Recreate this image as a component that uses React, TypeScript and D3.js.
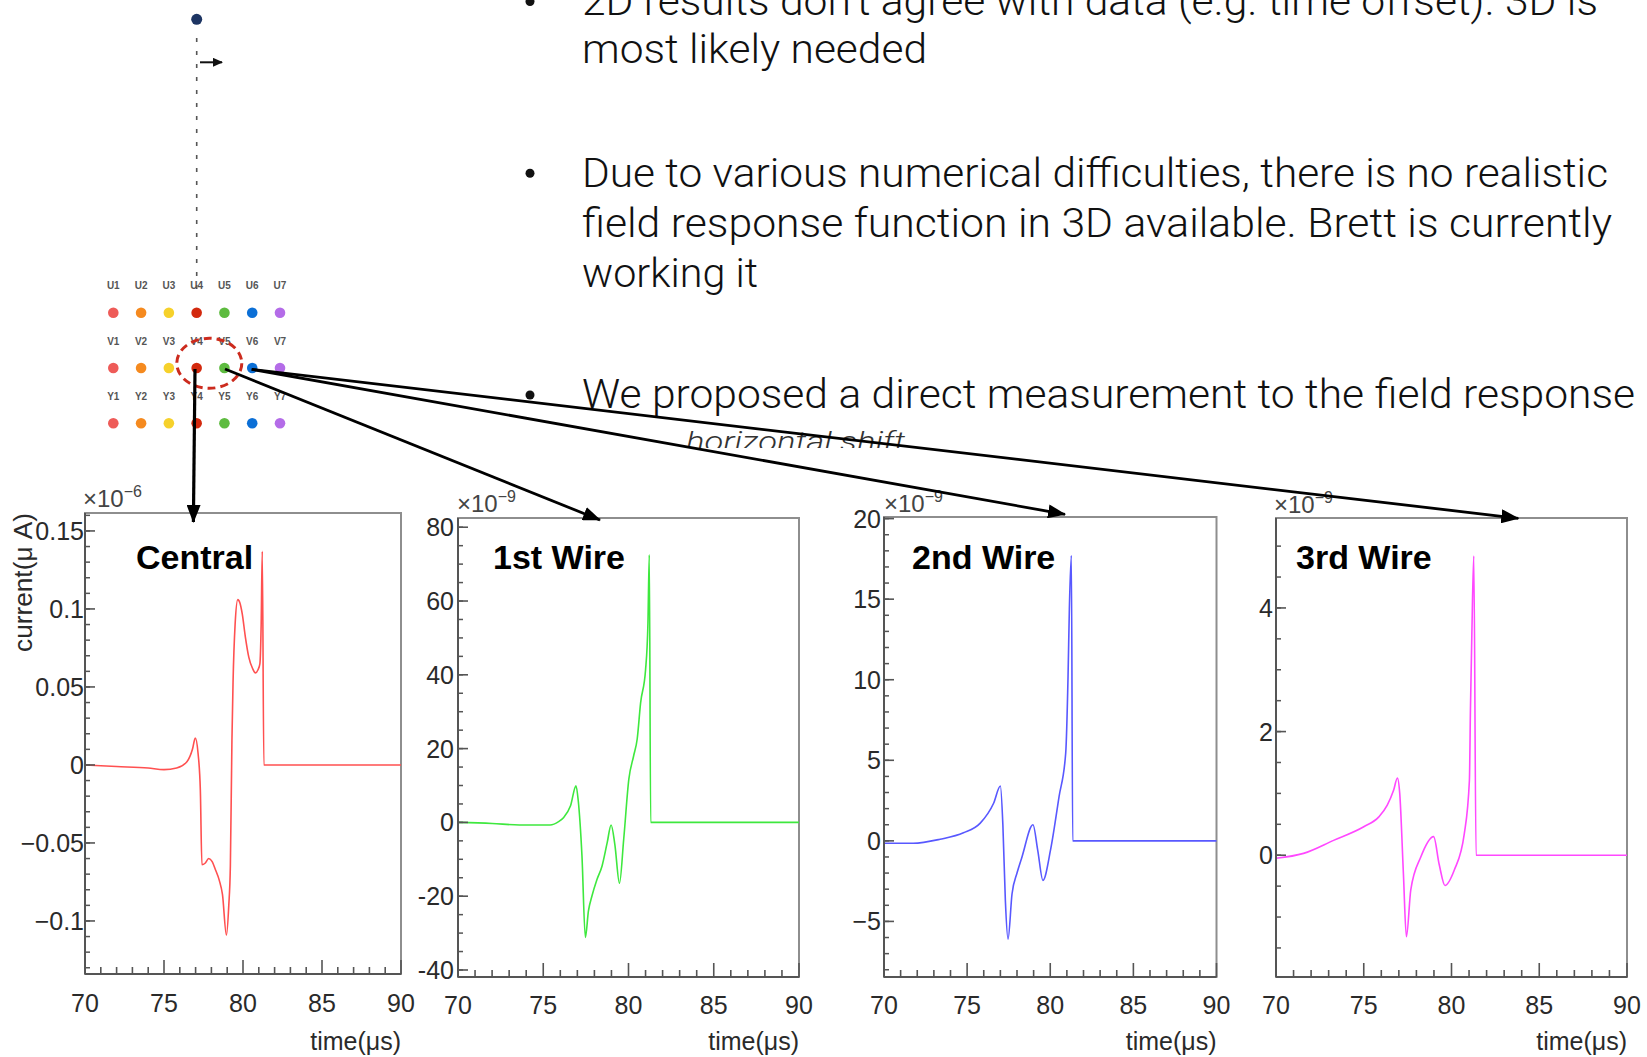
import React from "react";
import * as d3 from "d3";

const W = 1647;
const H = 1057;

// ---------- data ----------
const centralTime = [70, 72, 74, 75, 75.8, 76.45, 76.8, 76.98, 77.15, 77.3, 77.4, 77.6, 77.83, 78.05, 78.25, 78.5, 78.7, 78.95, 79.1, 79.2, 79.3, 79.37, 79.5, 79.67, 79.8, 79.95, 80.15, 80.37, 80.6, 80.79, 80.95, 81.07, 81.15, 81.22, 81.32, 90];
const centralCurrent = [0, -0.001, -0.002, -0.003, -0.002, 0.002, 0.01, 0.0173, 0.008, -0.016, -0.064, -0.063, -0.06, -0.062, -0.067, -0.074, -0.083, -0.109, -0.09, -0.065, 0.016, 0.053, 0.09, 0.106, 0.104, 0.097, 0.082, 0.069, 0.062, 0.059, 0.061, 0.065, 0.09, 0.137, 0, 0];

const wire1Time = [70, 72, 73.6, 75.4, 75.9, 76.2, 76.6, 76.92, 77.05, 77.27, 77.47, 77.65, 77.86, 78.15, 78.45, 78.75, 78.98, 79.2, 79.47, 79.72, 80.02, 80.3, 80.51, 80.71, 81.0, 81.14, 81.22, 81.3, 90];
const wire1Current = [0, -0.3, -0.7, -0.7, 0.2, 1.35, 4.5, 9.9, 6, -9, -31.2, -24, -19.9, -15.5, -11.8, -5.5, -0.7, -6, -16.5, -4.5, 11.75, 18, 22.6, 32.4, 41.3, 54, 72.5, 0, 0];

const wire2Time = [70, 71.75, 73.37, 74.78, 75.79, 76.6, 77.0, 77.15, 77.3, 77.46, 77.7, 78.0, 78.3, 78.96, 79.25, 79.56, 80.02, 80.53, 80.93, 81.07, 81.15, 81.27, 81.35, 90];
const wire2Current = [-0.15, -0.15, 0.1, 0.5, 1.1, 2.35, 3.4, 1.0, -3.7, -6.1, -3.3, -2.0, -1.0, 1.0, -0.6, -2.45, -0.55, 2.75, 5.45, 10.2, 14.4, 17.7, 0, 0];

const wire3Time = [70, 71.57, 73.28, 75.0, 75.86, 76.34, 76.7, 76.92, 77.05, 77.26, 77.43, 77.68, 78.25, 78.98, 79.3, 79.63, 80.16, 80.73, 81.02, 81.08, 81.16, 81.27, 81.4, 90];
const wire3Current = [-0.05, 0.03, 0.24, 0.46, 0.62, 0.81, 1.05, 1.25, 1.0, -0.3, -1.32, -0.56, -0.03, 0.3, -0.15, -0.49, -0.24, 0.35, 1.21, 2.37, 3.58, 4.84, 0, 0];

const xTickValues = [70, 75, 80, 85, 90];
const panelTitles = ["Central", "1st Wire", "2nd Wire", "3rd Wire"];
const panelExponents = ["−6", "−9", "−9", "−9"];
const yTicksCentral = [-0.1, -0.05, 0, 0.05, 0.1, 0.15];
const yLabelsCentral = ["−0.1", "−0.05", "0", "0.05", "0.1", "0.15"];
const yTicksWire1 = [-40, -20, 0, 20, 40, 60, 80];
const yLabelsWire1 = ["-40", "-20", "0", "20", "40", "60", "80"];
const yTicksWire2 = [-5, 0, 5, 10, 15, 20];
const yLabelsWire2 = ["−5", "0", "5", "10", "15", "20"];
const yTicksWire3 = [0, 2, 4];
const yLabelsWire3 = ["0", "2", "4"];

const wireRows = ["U", "V", "Y"];
const wireColumns = [1, 2, 3, 4, 5, 6, 7];
const wireColors = ["#ee5b58", "#f58a1f", "#f6d12b", "#d3290e", "#5dbb3f", "#0b6fd6", "#b46ce8"];

const bulletLines = [
  "2D results don’t agree with data (e.g. time offset). 3D is",
  "most likely needed",
  "Due to various numerical difficulties, there is no realistic",
  "field response function in 3D available. Brett is currently",
  "working it",
  "We proposed a direct measurement to the field response",
];

// ---------- layout ----------
const panels = [
  { t: centralTime, v: centralCurrent, color: "#ff5050", x0: 85, x1: 401, y0: 513, y1: 974, dom: [-0.134, 0.1615], ticks: yTicksCentral, labels: yLabelsCentral, minor: 0.01, labOff: 1, titleX: 136, expX: 83, expY: 507, xlabY: 1012 },
  { t: wire1Time, v: wire1Current, color: "#3ee83e", x0: 458, x1: 799, y0: 518, y1: 977, dom: [-41.9, 82.5], ticks: yTicksWire1, labels: yLabelsWire1, minor: 5, labOff: 4, titleX: 493, expX: 457, expY: 512, xlabY: 1014 },
  { t: wire2Time, v: wire2Current, color: "#5858ff", x0: 884, x1: 1216.5, y0: 517, y1: 977, dom: [-8.45, 20.1], ticks: yTicksWire2, labels: yLabelsWire2, minor: 1, labOff: 3, titleX: 912, expX: 884, expY: 512, xlabY: 1014 },
  { t: wire3Time, v: wire3Current, color: "#ff48ff", x0: 1276, x1: 1627, y0: 518, y1: 977, dom: [-1.97, 5.455], ticks: yTicksWire3, labels: yLabelsWire3, minor: 0.5, labOff: 3, titleX: 1296, expX: 1274, expY: 513, xlabY: 1014 },
];

const AXIS_FONT = "'Liberation Sans', Arial, Helvetica, sans-serif";

function Panel({ p, i }: { p: any; i: number }) {
  const x = d3.scaleLinear().domain([70, 90]).range([p.x0, p.x1]);
  const y = d3.scaleLinear().domain(p.dom).range([p.y1, p.y0]);
  const pts: [number, number][] = p.t.map((t: number, k: number) => [t, p.v[k]]);
  const line = d3
    .line<[number, number]>()
    .x((d) => x(d[0]))
    .y((d) => y(d[1]))
    .curve(d3.curveMonotoneX);
  const xMinor = d3.range(70, 90.001, 1);
  const yMinor = d3.range(Math.ceil(p.dom[0] / p.minor) * p.minor, p.dom[1], p.minor);
  return (
    <g>
      <rect x={p.x0} y={p.y0} width={p.x1 - p.x0} height={p.y1 - p.y0} fill="#fff" stroke="#8e8e8e" strokeWidth={2} />
      <path d={line(pts) || ""} fill="none" stroke={p.color} strokeWidth={1.6} strokeLinejoin="round" />
      <line x1={p.x0} x2={p.x0} y1={p.y0} y2={p.y1} stroke="#555" strokeWidth={2} />
      <line x1={p.x0} x2={p.x1} y1={p.y1} y2={p.y1} stroke="#555" strokeWidth={2} />
      {xMinor.map((t) => {
        const major = Math.abs(t % 5) < 1e-6;
        return <line key={"xm" + t} x1={x(t)} x2={x(t)} y1={p.y1} y2={p.y1 - (major ? 14 : 7)} stroke="#555" strokeWidth={1.6} />;
      })}
      {yMinor.map((v: number, k: number) => (
        <line key={"ym" + k} x1={p.x0} x2={p.x0 + 5} y1={y(v)} y2={y(v)} stroke="#555" strokeWidth={1.5} />
      ))}
      {p.ticks.map((v: number, k: number) => (
        <g key={"yt" + k}>
          <line x1={p.x0} x2={p.x0 + 10} y1={y(v)} y2={y(v)} stroke="#555" strokeWidth={1.6} />
          <text x={p.x0 - p.labOff} y={y(v) + 9} textAnchor="end" fontSize={25} fontFamily={AXIS_FONT} fill="#2a2a2a">
            {p.labels[k]}
          </text>
        </g>
      ))}
      {xTickValues.map((t) => (
        <text key={"xl" + t} x={x(t)} y={p.xlabY} textAnchor="middle" fontSize={25} fontFamily={AXIS_FONT} fill="#2a2a2a">
          {t}
        </text>
      ))}
      <text x={p.x1} y={1050} textAnchor="end" fontSize={25} fontFamily={AXIS_FONT} fill="#2a2a2a">
        time(μs)
      </text>
      <text x={p.expX} y={p.expY} fontSize={24} fontFamily={AXIS_FONT} fill="#444">
        ×10
        <tspan fontSize={16} dy={-10}>
          {panelExponents[i]}
        </tspan>
      </text>
      <text x={p.titleX} y={569} fontSize={34} fontWeight="bold" fontFamily={AXIS_FONT} fill="#000">
        {panelTitles[i]}
      </text>
    </g>
  );
}

export default function App() {
  const colX = d3.scaleLinear().domain([1, 7]).range([113.3, 280]);
  const rowY = d3.scaleLinear().domain([0, 2]).range([312.7, 423.3]);
  const lineTops = [15, 63, 187, 237, 287, 408];
  const lineWidths = [1016, 345, 1026, 1030, 176, 1053];
  const bulletY = [1.6, 173.3, 395];

  return (
    <svg width={W} height={H} style={{ position: "absolute", left: 0, top: 0, background: "#fff" }}>
      <defs>
        <marker id="ah" markerUnits="userSpaceOnUse" markerWidth={18} markerHeight={14} refX={17} refY={7} orient="auto">
          <path d="M0,0 L18,7 L0,14 z" fill="#000" />
        </marker>
        <marker id="ahs" markerUnits="userSpaceOnUse" markerWidth={10} markerHeight={9} refX={9} refY={4.5} orient="auto">
          <path d="M0,0 L10,4.5 L0,9 z" fill="#111" />
        </marker>
        <clipPath id="hclip">
          <rect x={0} y={0} width={W} height={448} />
        </clipPath>
      </defs>
      <rect x={0} y={0} width={W} height={H} fill="#fff" />

      {/* bullet text */}
      {bulletLines.map((s, k) => (
        <text
          key={"bl" + k}
          x={582}
          y={lineTops[k]}
          fontSize={41}
          fontFamily="Roboto, 'Liberation Sans', Arial, sans-serif"
          fontWeight={300}
          fill="#111"
          textLength={lineWidths[k]}
          lengthAdjust="spacingAndGlyphs"
        >
          {s}
        </text>
      ))}
      {bulletY.map((by, k) => (
        <circle key={"bu" + k} cx={530} cy={by} r={4.5} fill="#111" />
      ))}
      <text x={686} y={451} fontSize={27} fontStyle="italic" fontFamily="Roboto, 'Liberation Sans', Arial, sans-serif" fontWeight={300} fill="#333" clipPath="url(#hclip)" textLength={219} lengthAdjust="spacingAndGlyphs">
        horizontal shift
      </text>

      {/* wire diagram */}
      <circle cx={196.7} cy={19.3} r={5.5} fill="#1d3563" />
      <line x1={196.7} x2={196.7} y1={38} y2={295} stroke="#555" strokeWidth={1.6} strokeDasharray="4,9" />
      <line x1={200} x2={222} y1={62.3} y2={62.3} stroke="#111" strokeWidth={2} markerEnd="url(#ahs)" />
      {wireRows.map((r, ri) => (
        <g key={r}>
          {wireColumns.map((c, ci) => (
            <g key={r + c}>
              <text x={colX(c)} y={rowY(ri) - 23.5} textAnchor="middle" fontSize={10} fontWeight="bold" fontFamily={AXIS_FONT} fill="#555">
                {r + c}
              </text>
              <circle cx={colX(c)} cy={rowY(ri)} r={5.3} fill={wireColors[ci]} />
            </g>
          ))}
        </g>
      ))}
      <ellipse cx={209.3} cy={363.3} rx={32.5} ry={25} fill="none" stroke="#cc2b1e" strokeWidth={3} strokeDasharray="8,5" />

      {/* panels */}
      {panels.map((p, i) => (
        <Panel key={i} p={p} i={i} />
      ))}

      {/* y-axis title */}
      <text transform="translate(32,513) rotate(-90)" textAnchor="end" fontSize={25} fontFamily={AXIS_FONT} fill="#2a2a2a" textLength={139} lengthAdjust="spacingAndGlyphs">
        current(μ A)
      </text>

      {/* arrows */}
      <line x1={195} y1={369} x2={193.4} y2={522} stroke="#000" strokeWidth={3.2} markerEnd="url(#ah)" />
      <line x1={225} y1={369} x2={600} y2={520} stroke="#000" strokeWidth={2.8} markerEnd="url(#ah)" />
      <line x1={251.7} y1={369.3} x2={1065} y2={514.3} stroke="#000" strokeWidth={2.8} markerEnd="url(#ah)" />
      <line x1={251.7} y1={369.3} x2={1518.3} y2={518.3} stroke="#000" strokeWidth={2.8} markerEnd="url(#ah)" />
    </svg>
  );
}
